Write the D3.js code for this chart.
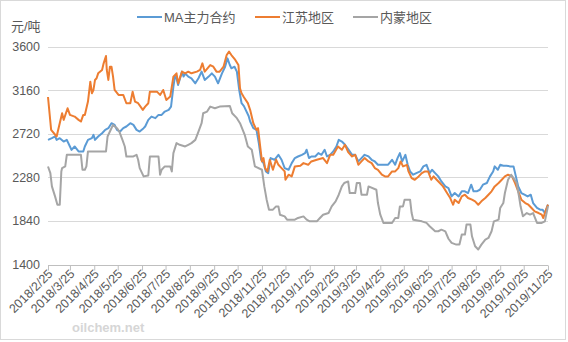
<!DOCTYPE html>
<html><head><meta charset="utf-8">
<script src="https://cdn.jsdelivr.net/npm/d3@7"></script>
<style>body{margin:0;background:#fff}svg{display:block}</style>
</head><body>
<svg id="c" width="568" height="342"></svg>
<script>
const seriesNames = ["MA主力合约", "江苏地区", "内蒙地区"];
const seriesColors = ["#5B9BD5", "#ED7D31", "#A5A5A5"];
const yTicks = [1400, 1840, 2280, 2720, 3160, 3600];
const xTickLabels = ["2018/2/25","2018/3/25","2018/4/25","2018/5/25","2018/6/25","2018/7/25","2018/8/25","2018/9/25","2018/10/25","2018/11/25","2018/12/25","2019/1/25","2019/2/25","2019/3/25","2019/4/25","2019/5/25","2019/6/25","2019/7/25","2019/8/25","2019/9/25","2019/10/25","2019/11/25"];

const maSeries = [
["2018-02-25",2659],["2018-03-02",2676],["2018-03-06",2693],["2018-03-08",2659],["2018-03-12",2676],["2018-03-17",2642],["2018-03-21",2659],["2018-03-25",2592],["2018-03-27",2558],["2018-03-31",2592],["2018-04-05",2542],["2018-04-11",2542],["2018-04-13",2592],["2018-04-17",2659],["2018-04-22",2676],["2018-04-24",2710],["2018-04-26",2659],["2018-04-30",2693],["2018-05-05",2726],["2018-05-09",2760],["2018-05-13",2777],["2018-05-17",2827],["2018-05-21",2810],["2018-05-24",2760],["2018-05-28",2743],["2018-06-01",2777],["2018-06-05",2794],["2018-06-10",2827],["2018-06-14",2810],["2018-06-18",2760],["2018-06-22",2743],["2018-06-27",2777],["2018-06-29",2794],["2018-07-03",2861],["2018-07-07",2894],["2018-07-12",2878],["2018-07-16",2911],["2018-07-20",2911],["2018-07-24",2945],["2018-07-29",2962],["2018-08-01",2995],["2018-08-04",3197],["2018-08-06",3298],["2018-08-08",3281],["2018-08-10",3214],["2018-08-15",3348],["2018-08-17",3298],["2018-08-19",3331],["2018-08-23",3298],["2018-08-27",3281],["2018-09-01",3230],["2018-09-05",3281],["2018-09-09",3348],["2018-09-13",3264],["2018-09-18",3298],["2018-09-22",3331],["2018-09-26",3298],["2018-09-30",3230],["2018-10-05",3331],["2018-10-09",3398],["2018-10-12",3482],["2018-10-15",3415],["2018-10-17",3382],["2018-10-21",3398],["2018-10-24",3348],["2018-10-27",3163],["2018-10-30",3029],["2018-11-02",3000],["2018-11-08",2900],["2018-11-10",2844],["2018-11-14",2777],["2018-11-18",2760],["2018-11-21",2626],["2018-11-24",2458],["2018-11-27",2424],["2018-11-30",2340],["2018-12-03",2323],["2018-12-06",2475],["2018-12-11",2458],["2018-12-16",2508],["2018-12-20",2458],["2018-12-24",2374],["2018-12-29",2357],["2019-01-02",2424],["2019-01-06",2475],["2019-01-10",2491],["2019-01-15",2508],["2019-01-19",2525],["2019-01-21",2559],["2019-01-24",2475],["2019-01-27",2491],["2019-02-01",2491],["2019-02-05",2525],["2019-02-09",2508],["2019-02-13",2559],["2019-02-16",2491],["2019-02-20",2508],["2019-02-24",2542],["2019-02-28",2592],["2019-03-03",2659],["2019-03-07",2642],["2019-03-11",2610],["2019-03-15",2565],["2019-03-20",2508],["2019-03-24",2508],["2019-03-28",2441],["2019-04-01",2475],["2019-04-05",2508],["2019-04-10",2492],["2019-04-14",2458],["2019-04-18",2441],["2019-04-22",2408],["2019-04-27",2408],["2019-05-01",2408],["2019-05-05",2408],["2019-05-10",2458],["2019-05-14",2408],["2019-05-17",2475],["2019-05-20",2525],["2019-05-23",2441],["2019-05-27",2508],["2019-05-30",2408],["2019-06-02",2340],["2019-06-06",2307],["2019-06-10",2323],["2019-06-15",2340],["2019-06-19",2391],["2019-06-23",2407],["2019-06-27",2323],["2019-06-30",2357],["2019-07-04",2323],["2019-07-08",2290],["2019-07-12",2239],["2019-07-17",2189],["2019-07-21",2172],["2019-07-25",2088],["2019-07-29",2122],["2019-08-03",2088],["2019-08-07",2139],["2019-08-11",2139],["2019-08-15",2122],["2019-08-19",2206],["2019-08-22",2139],["2019-08-26",2139],["2019-08-30",2155],["2019-09-03",2206],["2019-09-08",2223],["2019-09-12",2290],["2019-09-16",2340],["2019-09-18",2391],["2019-09-22",2357],["2019-09-25",2407],["2019-09-29",2397],["2019-10-03",2397],["2019-10-08",2391],["2019-10-12",2391],["2019-10-15",2290],["2019-10-18",2189],["2019-10-22",2122],["2019-10-26",2105],["2019-10-30",2088],["2019-11-03",2105],["2019-11-06",2021],["2019-11-11",1971],["2019-11-15",1954],["2019-11-18",1954],["2019-11-21",1920],["2019-11-25",2004]
];

const jiangsuSeries = [
["2018-02-25",3092],["2018-03-01",2760],["2018-03-08",2693],["2018-03-15",2928],["2018-03-17",2861],["2018-03-22",2978],["2018-03-25",2911],["2018-03-31",2894],["2018-04-05",2861],["2018-04-08",2844],["2018-04-11",2911],["2018-04-13",2911],["2018-04-17",3046],["2018-04-20",3247],["2018-04-22",3130],["2018-04-24",3163],["2018-04-26",3264],["2018-04-28",3281],["2018-04-30",3331],["2018-05-05",3365],["2018-05-07",3432],["2018-05-10",3506],["2018-05-11",3365],["2018-05-13",3264],["2018-05-15",3398],["2018-05-17",3398],["2018-05-19",3298],["2018-05-21",3163],["2018-05-26",3113],["2018-06-01",3113],["2018-06-05",3029],["2018-06-10",3029],["2018-06-13",3146],["2018-06-16",3046],["2018-06-20",3029],["2018-06-26",2962],["2018-06-29",2995],["2018-07-03",3029],["2018-07-05",3146],["2018-07-07",3146],["2018-07-14",3146],["2018-07-18",3113],["2018-07-22",3163],["2018-07-26",3062],["2018-07-31",3096],["2018-08-04",3298],["2018-08-08",3331],["2018-08-10",3230],["2018-08-15",3348],["2018-08-19",3331],["2018-08-23",3348],["2018-08-27",3331],["2018-09-03",3348],["2018-09-07",3365],["2018-09-10",3432],["2018-09-13",3348],["2018-09-20",3415],["2018-09-24",3398],["2018-09-28",3348],["2018-10-02",3348],["2018-10-07",3398],["2018-10-11",3516],["2018-10-14",3550],["2018-10-17",3516],["2018-10-22",3466],["2018-10-26",3415],["2018-10-28",3180],["2018-10-30",3130],["2018-11-02",3090],["2018-11-07",3030],["2018-11-10",2960],["2018-11-14",2827],["2018-11-18",2760],["2018-11-20",2777],["2018-11-23",2576],["2018-11-25",2441],["2018-11-27",2475],["2018-11-29",2374],["2018-12-02",2340],["2018-12-05",2458],["2018-12-09",2357],["2018-12-13",2458],["2018-12-16",2407],["2018-12-20",2374],["2018-12-24",2340],["2018-12-25",2256],["2018-12-29",2307],["2019-01-02",2290],["2019-01-06",2391],["2019-01-13",2397],["2019-01-17",2424],["2019-01-23",2407],["2019-01-27",2441],["2019-02-03",2458],["2019-02-11",2475],["2019-02-16",2424],["2019-02-20",2508],["2019-02-24",2508],["2019-03-02",2592],["2019-03-07",2559],["2019-03-11",2609],["2019-03-15",2535],["2019-03-20",2491],["2019-03-24",2508],["2019-03-28",2407],["2019-04-01",2441],["2019-04-05",2475],["2019-04-10",2441],["2019-04-14",2424],["2019-04-18",2374],["2019-04-22",2357],["2019-04-27",2307],["2019-05-01",2290],["2019-05-05",2290],["2019-05-10",2340],["2019-05-14",2340],["2019-05-18",2374],["2019-05-21",2441],["2019-05-24",2391],["2019-05-29",2407],["2019-05-31",2340],["2019-06-04",2273],["2019-06-08",2256],["2019-06-13",2290],["2019-06-17",2323],["2019-06-21",2340],["2019-06-25",2340],["2019-06-29",2256],["2019-07-02",2290],["2019-07-06",2256],["2019-07-10",2223],["2019-07-14",2189],["2019-07-19",2125],["2019-07-23",2075],["2019-07-25",2038],["2019-07-27",2004],["2019-07-29",2055],["2019-08-03",2021],["2019-08-07",2088],["2019-08-11",2105],["2019-08-15",2072],["2019-08-20",2055],["2019-08-24",2038],["2019-08-28",2004],["2019-09-01",2038],["2019-09-06",2072],["2019-09-10",2105],["2019-09-14",2139],["2019-09-18",2189],["2019-09-23",2223],["2019-09-27",2256],["2019-10-01",2290],["2019-10-05",2307],["2019-10-10",2290],["2019-10-14",2223],["2019-10-18",2139],["2019-10-22",2055],["2019-10-27",2021],["2019-10-31",2004],["2019-11-04",1971],["2019-11-08",1937],["2019-11-13",1920],["2019-11-17",1904],["2019-11-19",1870],["2019-11-21",1920],["2019-11-25",2004]
];

const neimengSeries = [
["2018-02-25",2390],["2018-02-28",2323],["2018-03-02",2189],["2018-03-06",2088],["2018-03-09",2004],["2018-03-12",2004],["2018-03-14",2340],["2018-03-15",2374],["2018-03-19",2391],["2018-03-21",2508],["2018-04-08",2508],["2018-04-10",2357],["2018-04-13",2357],["2018-04-15",2391],["2018-04-17",2542],["2018-05-10",2542],["2018-05-12",2693],["2018-05-15",2743],["2018-05-19",2810],["2018-05-24",2777],["2018-05-27",2743],["2018-05-31",2659],["2018-06-03",2592],["2018-06-05",2491],["2018-06-14",2491],["2018-06-18",2508],["2018-06-20",2458],["2018-06-22",2374],["2018-06-27",2290],["2018-07-03",2300],["2018-07-05",2491],["2018-07-16",2491],["2018-07-18",2307],["2018-07-20",2357],["2018-07-24",2391],["2018-07-31",2391],["2018-08-02",2340],["2018-08-04",2525],["2018-08-08",2626],["2018-08-12",2609],["2018-08-19",2592],["2018-08-23",2609],["2018-08-27",2626],["2018-09-01",2659],["2018-09-05",2743],["2018-09-09",2827],["2018-09-11",2928],["2018-09-16",2945],["2018-09-20",2995],["2018-09-26",2978],["2018-10-02",2995],["2018-10-15",3002],["2018-10-18",2928],["2018-10-24",2878],["2018-10-28",2827],["2018-11-03",2710],["2018-11-07",2592],["2018-11-12",2559],["2018-11-16",2391],["2018-11-25",2357],["2018-11-28",2189],["2018-12-01",2055],["2018-12-04",1954],["2018-12-09",1954],["2018-12-13",1987],["2018-12-16",1987],["2018-12-18",1903],["2018-12-24",1886],["2018-12-27",1853],["2019-01-06",1853],["2019-01-10",1870],["2019-01-17",1886],["2019-01-21",1853],["2019-01-25",1836],["2019-02-03",1836],["2019-02-07",1870],["2019-02-11",1903],["2019-02-18",1920],["2019-02-22",1987],["2019-02-27",2038],["2019-03-03",2105],["2019-03-07",2189],["2019-03-10",2223],["2019-03-15",2239],["2019-03-17",2122],["2019-03-24",2122],["2019-03-26",2223],["2019-03-30",2223],["2019-04-01",2105],["2019-04-08",2105],["2019-04-10",2189],["2019-04-20",2155],["2019-04-22",2021],["2019-04-25",1903],["2019-04-29",1820],["2019-05-10",1820],["2019-05-14",1870],["2019-05-18",1870],["2019-05-20",1987],["2019-05-24",1987],["2019-05-26",2055],["2019-06-02",2055],["2019-06-04",1920],["2019-06-06",1853],["2019-06-17",1836],["2019-06-23",1820],["2019-06-27",1786],["2019-07-04",1736],["2019-07-08",1736],["2019-07-12",1752],["2019-07-17",1735],["2019-07-21",1660],["2019-07-25",1618],["2019-07-31",1601],["2019-08-04",1601],["2019-08-07",1702],["2019-08-11",1702],["2019-08-13",1803],["2019-08-18",1803],["2019-08-20",1685],["2019-08-24",1584],["2019-08-28",1551],["2019-09-01",1601],["2019-09-06",1652],["2019-09-10",1668],["2019-09-14",1736],["2019-09-17",1836],["2019-09-23",1853],["2019-09-25",1971],["2019-09-29",2021],["2019-10-01",2122],["2019-10-05",2256],["2019-10-09",2307],["2019-10-12",2273],["2019-10-16",2223],["2019-10-19",2088],["2019-10-21",1988],["2019-10-24",1887],["2019-10-29",1920],["2019-11-02",1904],["2019-11-06",1920],["2019-11-11",1820],["2019-11-17",1820],["2019-11-21",1836],["2019-11-25",1990]
];

const svg = d3.select("#c");
const fontLatin = "'Liberation Sans', Arial, sans-serif";
const fontCJK = "'Liberation Sans', 'Noto Sans CJK SC', sans-serif";

// outer border
svg.append("rect").attr("x",0.5).attr("y",0.5).attr("width",565).attr("height",339)
  .attr("fill","#fff").attr("stroke","#D9D9D9");

const parseIso = d3.utcParse("%Y-%m-%d");
const parseLbl = d3.utcParse("%Y/%m/%d");
const tickDates = xTickLabels.map(parseLbl);

const x = d3.scaleUtc().domain([tickDates[0], tickDates[tickDates.length-1]]).range([48, 548]);
const y = d3.scaleLinear().domain([1400, 3600]).range([264.5, 46.7]);

// watermark
svg.append("text").attr("x",72).attr("y",332).text("oilchem.net")
  .attr("font-family",fontLatin).attr("font-size",13).attr("font-weight","bold")
  .attr("fill","#D6D6D6");

// gridlines
svg.append("g").selectAll("line").data(yTicks.filter(v => v > 1400)).join("line")
  .attr("x1",48).attr("x2",548).attr("y1",d=>Math.round(y(d))+0.5).attr("y2",d=>Math.round(y(d))+0.5)
  .attr("stroke","#D9D9D9").attr("stroke-width",1);

// y axis labels
const yAxis = d3.axisLeft(y).tickValues(yTicks).tickSize(0).tickPadding(0).tickFormat(d3.format("d"));
const gy = svg.append("g").attr("transform","translate(40,0)").call(yAxis);
gy.select(".domain").remove();
gy.selectAll("text").attr("font-family",fontLatin).attr("font-size",12.5).attr("fill","#595959");

// x axis
const xAxis = d3.axisBottom(x).tickValues(tickDates).tickSize(5).tickFormat((d,i)=>xTickLabels[i]);
const gx = svg.append("g").attr("transform",`translate(0,${Math.round(y(1400))+0.5})`).call(xAxis);
gx.select(".domain").attr("stroke","#BFBFBF").attr("d","M48,0H548");
gx.selectAll(".tick line").attr("stroke","#BFBFBF");
gx.selectAll(".tick text")
  .attr("font-family",fontLatin).attr("font-size",12.5).attr("fill","#595959")
  .attr("text-anchor","end").attr("dy",null).attr("y",null)
  .attr("transform","translate(5,9) rotate(-45)");

// lines
const line = d3.line().x(d=>x(parseIso(d[0]))).y(d=>y(d[1]));
const allSeries = [maSeries, jiangsuSeries, neimengSeries];
svg.append("g").selectAll("path").data(allSeries).join("path")
  .attr("d", d=>line(d)).attr("fill","none")
  .attr("stroke",(d,i)=>seriesColors[i]).attr("stroke-width",2)
  .attr("stroke-linejoin","round");

// y unit label
svg.append("text").attr("x",11).attr("y",31).text("元/吨")
  .attr("font-family",fontCJK).attr("font-size",13).attr("fill","#595959");

// legend
const legendX = [137, 255, 353];
const lg = svg.append("g").selectAll("g").data(seriesNames).join("g")
  .attr("transform",(d,i)=>`translate(${legendX[i]},17)`);
lg.append("line").attr("x1",0).attr("x2",25).attr("y1",0).attr("y2",0)
  .attr("stroke",(d,i)=>seriesColors[i]).attr("stroke-width",2);
lg.append("text").attr("x",27).attr("y",5).text(d=>d)
  .attr("font-family",fontCJK).attr("font-size",13).attr("fill","#595959");
</script>
</body></html>
